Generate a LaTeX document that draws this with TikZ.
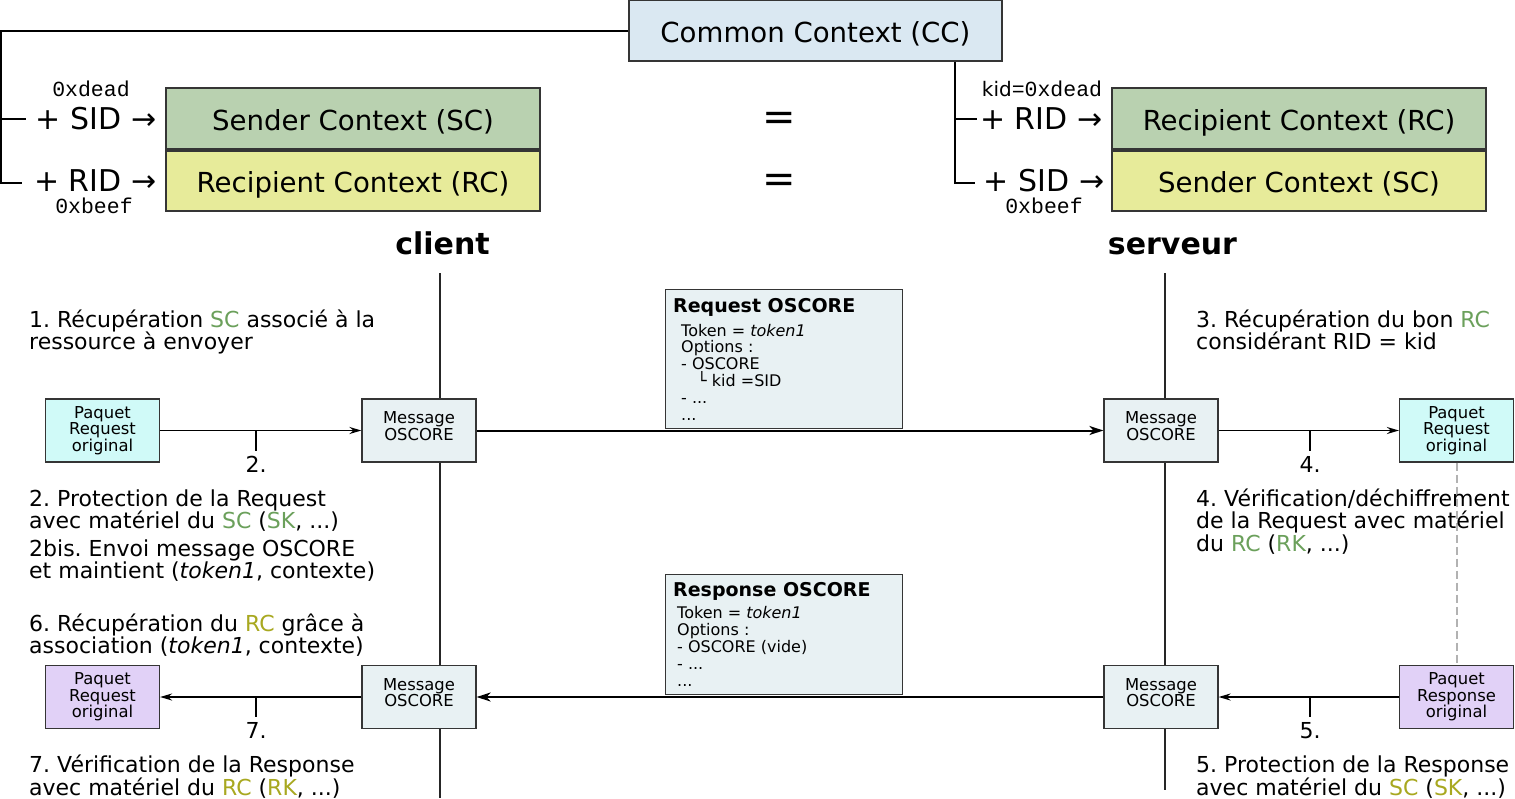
\documentclass[tikz,border=0pt]{standalone}
\usepackage{fontspec}
\setmainfont{DejaVu Sans}
\setmonofont{Liberation Mono}
\usepackage{tikz}
\usetikzlibrary{arrows.meta,positioning,calc}
\frenchspacing
\definecolor{boxline}{HTML}{353535}
\definecolor{ccfill}{HTML}{DAE8F2}
\definecolor{scfill}{HTML}{B9D1B0}
\definecolor{rcfill}{HTML}{E7EB9A}
\definecolor{msgfill}{HTML}{E8F1F3}
\definecolor{reqfill}{HTML}{D0FAF8}
\definecolor{respfill}{HTML}{E1D1F7}
\definecolor{txtgreen}{HTML}{6BA05B}
\definecolor{txtolive}{HTML}{A8A820}
\newcommand{\gr}[1]{\textcolor{txtgreen}{#1}}
\newcommand{\ol}[1]{\textcolor{txtolive}{#1}}
\tikzset{
  ctx/.style={rectangle, draw=boxline, line width=1.3pt, minimum width=374pt,
    minimum height=61pt, inner sep=0pt, text height=27pt, text depth=4pt,
    font=\fontsize{27.6}{30}\selectfont},
  common/.style={ctx, fill=ccfill, minimum width=373pt},
  sender/.style={ctx, fill=scfill},
  recip/.style={ctx, fill=rcfill, minimum height=60pt},
  idlbl/.style={inner sep=0pt, font=\fontsize{30}{32}\selectfont},
  hexlbl/.style={inner sep=0pt, font=\ttfamily\fontsize{21.5}{22}\selectfont},
  eqsign/.style={inner sep=0pt, font=\fontsize{40}{40}\selectfont},
  actor/.style={inner sep=0pt, font=\bfseries\fontsize{30}{32}\selectfont},
  msgbox/.style={rectangle, draw=boxline, line width=1.2pt, fill=msgfill,
    minimum width=114pt, minimum height=63pt, inner sep=0pt, align=center,
    font=\fontsize{16.4}{16.5}\selectfont},
  reqpkt/.style={msgbox, fill=reqfill},
  resppkt/.style={msgbox, fill=respfill},
  pdubox/.style={rectangle, draw=boxline, line width=1.2pt, fill=msgfill,
    minimum width=237pt, inner sep=0pt},
  pdutitle/.style={inner sep=0pt, font=\bfseries\fontsize{19}{20}\selectfont},
  pdubody/.style={inner sep=0pt, align=left, font=\fontsize{16}{16.8}\selectfont},
  note/.style={inner sep=0pt, align=left, font=\fontsize{22}{22.5}\selectfont},
  numlbl/.style={inner sep=1pt, font=\fontsize{22}{22}\selectfont},
  tree/.style={line width=2pt, draw=black},
  life/.style={line width=2.2pt, draw=black!85},
  arrow/.style={-{Stealth[length=12pt, width=7pt, inset=4pt]}, line width=1.8pt},
  bigarrow/.style={-{Stealth[length=14pt, width=9pt, inset=4pt]}, line width=2pt},
  tick/.style={line width=2pt},
}
\begin{document}
\begin{tikzpicture}[x=1pt, y=-1pt]
\useasboundingbox (0,0) rectangle (1515,798);

% contexts
\node[common] (cc) at (815.5,30.5) {Common Context (CC)};
\node[sender] (scL) at (353,118.5) {Sender Context (SC)};
\node[recip] (rcL) at (353,181) {Recipient Context (RC)};
\node[recip, fill=scfill, minimum height=61pt] (rcR) at (1299,118.5) {Recipient Context (RC)};
\node[sender, fill=rcfill, minimum height=60pt] (scR) at (1299,181) {Sender Context (SC)};

\node[idlbl, left=9pt of scL] (sidL) {+ SID →};
\node[idlbl, left=9pt of rcL] (ridL) {+ RID →};
\node[idlbl, left=9pt of rcR] (ridR) {+ RID →};
\node[idlbl, left=7pt of scR] (sidR) {+ SID →};
\node[hexlbl] (hexL1) at (91,89) {0xdead};
\node[hexlbl] (hexL2) at (94,206) {0xbeef};
\node[hexlbl] (hexR1) at (1042,89) {{\rmfamily\fontsize{20}{22}\selectfont kid}=0xdead};
\node[hexlbl] (hexR2) at (1044,206) {0xbeef};
\node[eqsign] (eq1) at (779,121) {=};
\node[eqsign] (eq2) at (779,183) {=};

\coordinate (treeL) at (1,183);
\coordinate (treeR) at (955,183);
\draw[tree] (cc.west) -| (treeL) -- ([xshift=-12pt]ridL.west |- treeL);
\draw[tree] (treeL |- sidL.west) -- ([xshift=-10pt]sidL.west);
\draw[tree] (cc.south -| treeR) -- (treeR) -- ([xshift=-9pt]sidR.west |- treeR);
\draw[tree] (treeR |- ridR.west) -- ([xshift=-3pt]ridR.west);

% actors and lifelines
\node[actor, anchor=base] (client) at (442.5,254) {client};
\node[actor, anchor=base] (server) at (1172.5,254) {serveur};
\coordinate (cliTop) at (440,273);
\coordinate (cliBot) at (440,798);
\coordinate (srvTop) at (1165,273);
\coordinate (srvBot) at (1165,790);
\draw[life] (cliTop) -- (cliBot);
\draw[life] (srvTop) -- (srvBot);

% packets and messages
\node[reqpkt] (pktL1) at (102.5,430.5) {Paquet\\Request\\original};
\node[msgbox] (msgL1) at (419,430.5) {Message\\OSCORE\\[-8pt]};
\node[msgbox] (msgR1) at (1161,430.5) {Message\\OSCORE\\[-8pt]};
\node[reqpkt] (pktR1) at (1456.5,430.5) {Paquet\\Request\\original};
\node[resppkt] (pktL2) at (102.5,697) {Paquet\\Request\\original};
\node[msgbox] (msgL2) at (419,697) {Message\\OSCORE\\[-8pt]};
\node[msgbox] (msgR2) at (1161,697) {Message\\OSCORE\\[-8pt]};
\node[resppkt] (pktR2) at (1456.5,697) {Paquet\\Response\\original};

% OSCORE messages
\node[pdubox, minimum height=139pt, anchor=south west] (reqpdu) at (665,429) {};
\node[pdutitle, anchor=base west] (reqttl) at (673,312) {Request OSCORE};
\node[pdubody, anchor=base west] (reqbody) at (681,420)
  {Token = \textit{token1}\\Options :\\- OSCORE\\\hspace*{16pt}└ kid =SID\\- ...\\...};
\node[pdubox, minimum height=120pt, anchor=south west] (resppdu) at (665,695) {};
\node[pdutitle, anchor=base west] (respttl) at (673,596) {Response OSCORE};
\node[pdubody, anchor=base west] (respbody) at (677,686)
  {Token = \textit{token1}\\Options :\\- OSCORE (vide)\\- ...\\...};

% connectors
\draw[arrow] (pktL1) -- (msgL1);
\draw[bigarrow] (msgL1) -- (msgR1);
\draw[arrow] (msgR1) -- (pktR1);
\draw[line width=2pt, draw=black!30, dash pattern=on 8pt off 4pt] (pktR1) -- (pktR2);
\draw[arrow] (pktR2) -- (msgR2);
\draw[bigarrow] (msgR2) -- (msgL2);
\draw[arrow] (msgL2) -- (pktL2);

\node[numlbl, anchor=north] (n2) at (256,455) {2.};
\node[numlbl, anchor=north] (n4) at (1310,455) {4.};
\node[numlbl, anchor=north] (n5) at (1310,721) {5.};
\node[numlbl, anchor=north] (n7) at (256,721) {7.};
\draw[tick] (n2.north |- pktL1.east) -- ([yshift=4pt]n2.north);
\draw[tick] (n4.north |- pktR1.west) -- ([yshift=4pt]n4.north);
\draw[tick] (n5.north |- pktR2.west) -- ([yshift=4pt]n5.north);
\draw[tick] (n7.north |- pktL2.east) -- ([yshift=4pt]n7.north);

% steps (anchored on the last line)
\node[note, anchor=base west] (s1) at (29,349.5)
  {1. Récupération \gr{SC} associé à la\\ressource à envoyer};
\node[note, anchor=base west] (s3) at (1196,349.5)
  {3. Récupération du bon \gr{RC}\\considérant RID = kid};
\node[note, anchor=base west] (s2) at (29,528.5)
  {2. Protection de la Request\\avec matériel du \gr{SC} (\gr{SK}, ...)};
\node[note, anchor=base west] (s2b) at (29,578.5)
  {2bis. Envoi message OSCORE\\et maintient (\textit{token1}, contexte)};
\node[note, anchor=base west] (s4) at (1196,551)
  {4. Vérification/déchiffrement\\de la Request avec matériel\\du \gr{RC} (\gr{RK}, ...)};
\node[note, anchor=base west] (s6) at (29,653.5)
  {6. Récupération du \ol{RC} grâce à\\association (\textit{token1}, contexte)};
\node[note, anchor=base west] (s7) at (29,795)
  {7. Vérification de la Response\\avec matériel du \ol{RC} (\ol{RK}, ...)};
\node[note, anchor=base west] (s5) at (1196,795)
  {5. Protection de la Response\\avec matériel du \ol{SC} (\ol{SK}, ...)};
\end{tikzpicture}
\end{document}
